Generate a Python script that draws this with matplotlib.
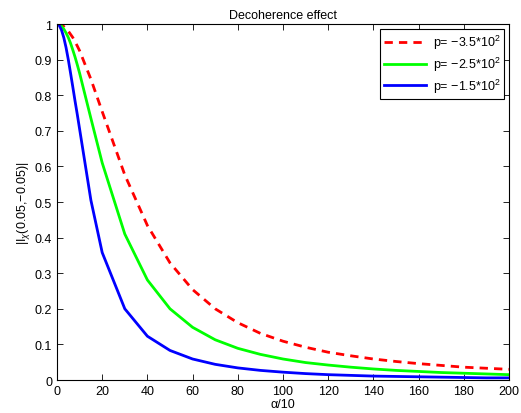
import matplotlib
matplotlib.use('Agg')
import matplotlib.pyplot as plt

plt.rcParams['font.family'] = ['Liberation Sans', 'DejaVu Sans']
plt.rcParams['mathtext.fontset'] = 'custom'
plt.rcParams['mathtext.rm'] = 'Liberation Sans'
plt.rcParams['mathtext.it'] = 'Liberation Sans:italic'

# alpha/10 sample points
x = [0, 1, 2, 3, 4, 5, 6, 7, 8, 9, 10, 15,
     20, 30, 40, 50, 60, 70, 80, 90, 100,
     110, 120, 130, 140, 150, 160, 170, 180, 190, 200]

# p = -3.5*10^2
red = [1.0, 0.999, 0.997, 0.993, 0.987, 0.980, 0.971, 0.962, 0.950, 0.938, 0.925, 0.845,
       0.754, 0.576, 0.434, 0.329, 0.254, 0.200, 0.161, 0.131, 0.109,
       0.092, 0.078, 0.068, 0.059, 0.052, 0.046, 0.041, 0.036, 0.033, 0.030]
# p = -2.5*10^2
green = [1.0, 0.998, 0.994, 0.986, 0.975, 0.962, 0.946, 0.927, 0.907, 0.885, 0.862, 0.735,
         0.610, 0.410, 0.281, 0.200, 0.148, 0.113, 0.089, 0.072, 0.059,
         0.049, 0.042, 0.036, 0.031, 0.027, 0.024, 0.021, 0.019, 0.017, 0.015]
# p = -1.5*10^2
blue = [1.0, 0.996, 0.983, 0.962, 0.934, 0.900, 0.862, 0.823, 0.783, 0.745, 0.705, 0.505,
        0.358, 0.200, 0.123, 0.083, 0.059, 0.044, 0.034, 0.027, 0.022,
        0.018, 0.015, 0.013, 0.011, 0.010, 0.009, 0.008, 0.007, 0.006, 0.006]

labels = ['p= \u22123.5*10$^2$', 'p= \u22122.5*10$^2$', 'p= \u22121.5*10$^2$']

fig = plt.figure(figsize=(5.21, 4.14), dpi=100)
ax = fig.add_axes([0.1094, 0.0797, 0.8676, 0.8599])

ax.plot(x, red, 'r--', lw=2, dashes=(3, 2.2), label=labels[0])
ax.plot(x, green, color='#00ff00', lw=2, label=labels[1])
ax.plot(x, blue, 'b-', lw=2, label=labels[2])

ax.set_xlim(0, 200)
ax.set_ylim(0, 1)
ax.set_xticks(range(0, 201, 20))
ax.set_yticks([i / 10 for i in range(11)])
ax.set_yticklabels(['0', '0.1', '0.2', '0.3', '0.4', '0.5', '0.6', '0.7', '0.8', '0.9', '1'])
ax.tick_params(direction='in', top=True, right=True, labelsize=9, length=4, width=0.6)
for s in ax.spines.values():
    s.set_linewidth(0.8)

ax.set_title('Decoherence effect', fontsize=9, pad=4)
ax.set_xlabel('\u03b1/10', fontsize=9, labelpad=1)
ax.set_ylabel('|I$_\u03c7$(0.05,\u22120.05)|', fontsize=9, labelpad=2)

leg = ax.legend(loc='upper right', fontsize=9, fancybox=False, edgecolor='black',
                framealpha=1, borderaxespad=0.4, handlelength=3.4, labelspacing=0.3,
                borderpad=0.3, handletextpad=0.5)
leg.get_frame().set_linewidth(0.8)

fig.savefig('out.png', dpi=100)
